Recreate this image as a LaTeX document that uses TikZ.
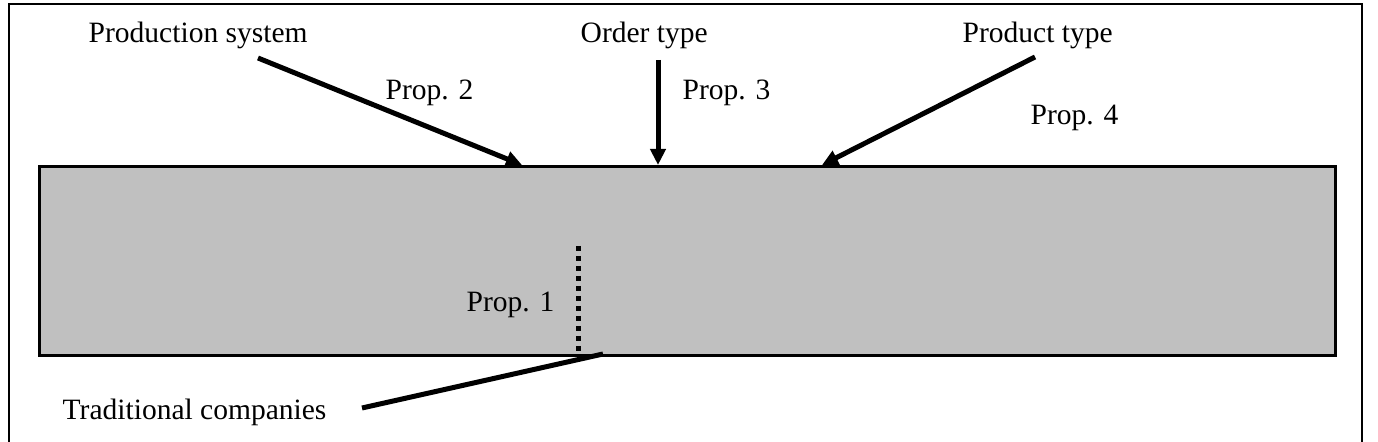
\documentclass[tikz,border=0pt]{standalone}
\usepackage{fontspec}
\setmainfont{Liberation Serif}
\usetikzlibrary{arrows.meta}
\tikzset{
  proptext/.style={font=\fontsize{8.4}{10}\selectfont, inner sep=0pt, anchor=base west},
  proparrow/.style={line width=0.5mm, -{Triangle[length=1.6mm, width=1.5mm]}},
}
\begin{document}
\begin{tikzpicture}[x=0.1mm, y=-0.1mm]
				\useasboundingbox (0,0) rectangle (1378,442);

				% Outer frame
				\draw[line width=0.22mm] (9,442) -- (9,4) -- (1362,4) -- (1362,442);

				% Companies block
				\node[draw, line width=0.3mm, fill={rgb,255:red,192;green,192;blue,192}, rectangle, minimum width=129.6mm, minimum height=18.9mm, inner sep=0pt, anchor=north west] (block) at (38,165) {};

				% Influencing factors
				\node[proptext] (prodsys) at (88,43) {Production system};
				\node[proptext] (ordertype) at (580,43) {Order type};
				\node[proptext] (prodtype) at (962,43) {Product type};

				% Propositions
				\node[proptext] (prop1) at (466,312) {Prop. 1};
				\node[proptext] (prop2) at (385,100) {Prop. 2};
				\node[proptext] (prop3) at (682,100) {Prop. 3};
				\node[proptext] (prop4) at (1030,125) {Prop. 4};

				% Traditional companies
				\node[proptext] (tradcomp) at (62,420) {Traditional companies};

				% Arrow ends
				\coordinate (prodsysend) at (258,58);
				\coordinate (ordertypeend) at (658,60);
				\coordinate (prodtypeend) at (1035,57);
				\coordinate (tradend) at (362,408);
				\coordinate (blockA) at (522,165);
				\coordinate (blockB) at (658,165);
				\coordinate (blockC) at (822,165);
				\coordinate (blockD) at (603,354);
				\coordinate (dotstart) at (578,246);
				\coordinate (dotend) at (578,352);

				\draw[proparrow] (prodsysend) -- (blockA);
				\draw[proparrow] (ordertypeend) -- (blockB);
				\draw[proparrow] (prodtypeend) -- (blockC);
				\draw[line width=0.5mm] (tradend) -- (blockD);
				\draw[line width=0.5mm, dash pattern=on 0.5mm off 0.5mm] (dotstart) -- (dotend);
			\end{tikzpicture}
\end{document}
